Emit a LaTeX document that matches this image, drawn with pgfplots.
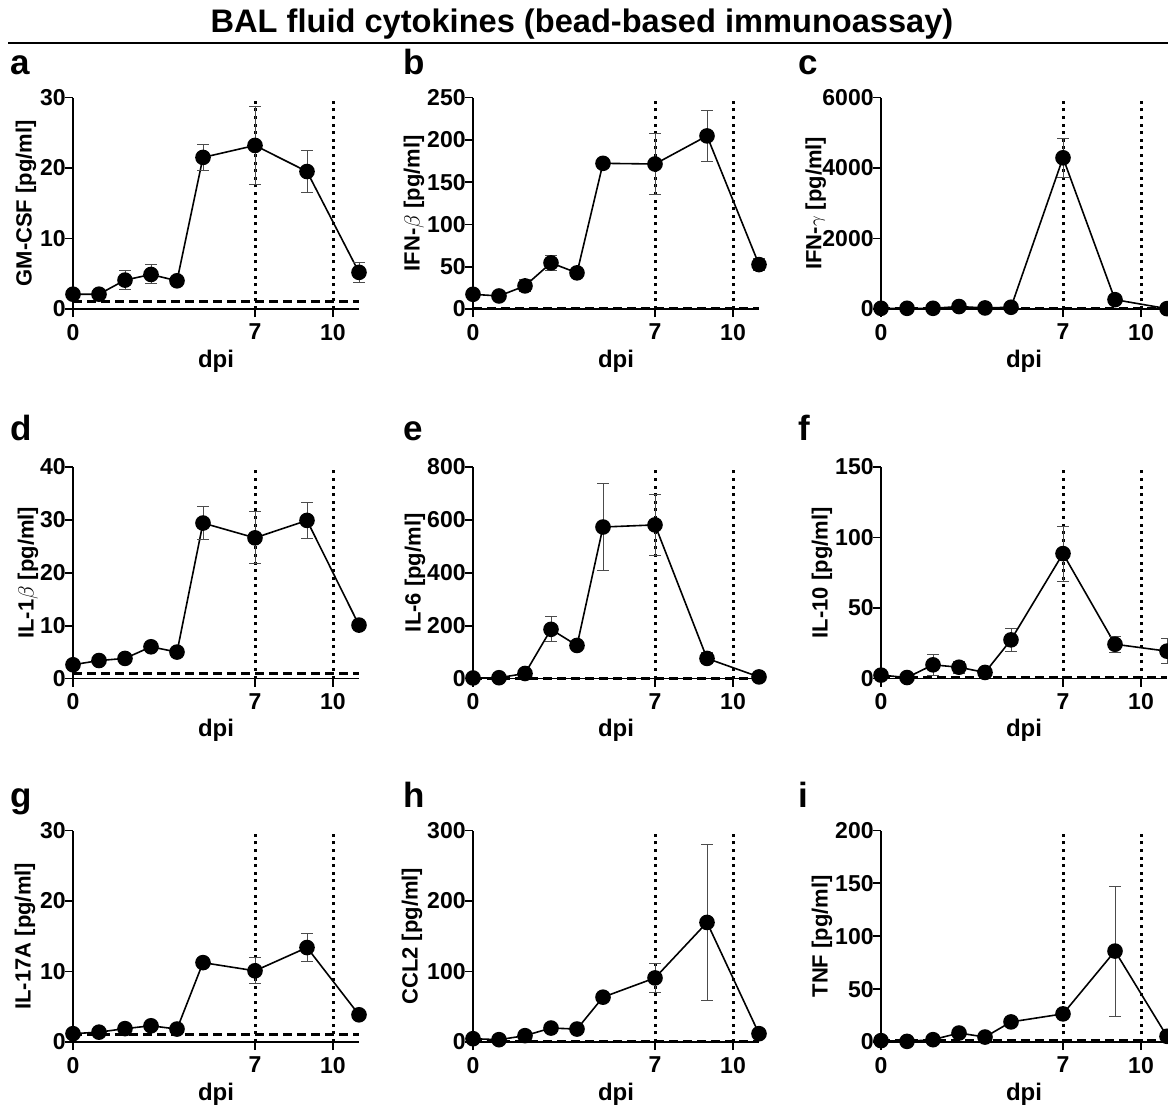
\documentclass[border=0pt]{standalone}
\usepackage{fontspec}
\setmainfont{Liberation Sans}
\usepackage{pgfplots}
\usepackage{pgfplotstable}
\pgfplotsset{compat=1.18}

% values: dpi, mean, error
\pgfplotstableread{
x y e
0 2.1 0.3
1 2.1 0.2
2 4.1 1.4
3 4.9 1.35
4 4.0 0.3
5 21.5 1.8
7 23.2 5.5
9 19.5 3.0
11 5.2 1.4
}\gmcsf
\pgfplotstableread{
x y e
0 17.4 2
1 15.4 2
2 27.3 7
3 54.5 8.5
4 42.7 3
5 172.2 3
7 171.4 36
9 204.6 30.5
11 52.5 7
}\ifnb
\pgfplotstableread{
x y e
0 20 10
1 20 10
2 20 10
3 70 20
4 30 10
5 50 10
7 4290 550
9 265 30
11 10 5
}\ifng
\pgfplotstableread{
x y e
0 2.6 0.3
1 3.4 0.3
2 3.8 0.3
3 6.0 0.4
4 5.0 0.3
5 29.4 3.1
7 26.6 4.9
9 29.9 3.45
11 10.1 0.6
}\ilib
\pgfplotstableread{
x y e
0 2 1
1 3 1
2 19 5
3 186 47
4 125 10
5 573 165
7 581 115
9 76 21
11 6 2
}\ilsix
\pgfplotstableread{
x y e
0 2.4 0.5
1 0.7 0.3
2 9.7 7.3
3 8.0 4.2
4 4.3 1.5
5 27.4 8
7 88.6 19.5
9 24.3 5.8
11 19.4 8.7
}\ilten
\pgfplotstableread{
x y e
0 1.18 0.1
1 1.4 0.1
2 1.9 0.2
3 2.3 0.2
4 1.84 0.2
5 11.26 0.4
7 10.1 1.85
9 13.4 1.95
11 3.86 0.3
}\ilseventeen
\pgfplotstableread{
x y e
0 4.7 1
1 3.3 1
2 9 2
3 19.8 2
4 18.4 2
5 63.6 5
7 90.9 20.7
9 169.6 110.7
11 11.8 2
}\ccltwo
\pgfplotstableread{
x y e
0 1.3 0.5
1 0.6 0.3
2 2.2 0.5
3 8.5 1
4 4.7 1
5 19 2
7 26.6 4
9 86 61.4
11 5.4 1
}\tnf

\pgfplotsset{
  panel/.style={
    anchor=south west,
    width=143pt, height=105.75pt, scale only axis,
    axis lines*=left,
    axis line style={line width=0.9pt, black},
    xmin=0, xmax=11, ymin=0, clip=false,
    xtick={0,7,10},
    tick align=outside, major tick length=4pt,
    tick style={line width=0.9pt, black},
    tick label style={font=\fontsize{11.5}{13}\selectfont\bfseries},
    yticklabel style={inner xsep=0pt, xshift=0.5pt},
    /pgf/number format/assume math mode=true,
    /pgf/number format/1000 sep={},
    scaled y ticks=false,
    xlabel={dpi},
    xlabel style={font=\fontsize{12}{14}\selectfont\bfseries, yshift=2pt},
    ylabel style={font=\fontsize{11}{13}\selectfont\bfseries},
  },
  vdot/.style={black, line width=1.5pt, dash pattern=on 1.5pt off 2.3pt},
  lod/.style={black, line width=1.5pt, dash pattern=on 4.5pt off 2.5pt},
}

% #1 table, #2 ymax, #3 ytick step, #4 ylabel, #5 position, #6 ylabel x (axis description cs)
\newcommand{\cytopanel}[6]{%
  \begin{axis}[panel, at={#5}, ymax=#2, ytick={0,#3,...,#2}, ylabel={#4},
      ylabel style={at={(axis description cs:#6,0.5)}, anchor=center}]
    \addplot[vdot] coordinates {(7,0) (7,#2)};
    \addplot[vdot] coordinates {(10,0) (10,#2)};
    \addplot[lod] coordinates {(0,1) (11,1)};
    \addplot[black, line width=0.8pt, mark=*, mark size=3.5pt,
      error bars/.cd, y dir=both, y explicit,
      error bar style={line width=0.5pt, gray!60!black},
      error mark options={rotate=90, line width=0.5pt, gray!60!black, mark size=2.8pt}]
      table[x=x, y=y, y error=e] {#1};
  \end{axis}}

\begin{document}
\begin{tikzpicture}
\useasboundingbox (0,0) rectangle (584pt,-552pt);
\clip (0,0) rectangle (584pt,-552pt);

\node[anchor=base, font=\fontsize{16.3}{19}\selectfont\bfseries] at (291pt,-16pt)
  {BAL fluid cytokines (bead-based immunoassay)};
\draw[line width=1pt] (4pt,-21.7pt) -- (584pt,-21.7pt);

\tikzset{letter/.style={anchor=base west, inner sep=0pt, font=\fontsize{17.5}{20}\selectfont\bfseries}}
\node[letter] at (5pt,-37pt) {a};
\node[letter] at (201.5pt,-37pt) {b};
\node[letter] at (399pt,-37pt) {c};
\node[letter] at (5pt,-220pt) {d};
\node[letter] at (201.5pt,-220pt) {e};
\node[letter] at (399pt,-220pt) {f};
\node[letter] at (5pt,-403.5pt) {g};
\node[letter] at (201.5pt,-403.5pt) {h};
\node[letter] at (399pt,-403.5pt) {i};

\cytopanel{\gmcsf}{30}{10}{GM-CSF [pg/ml]}{(36.5pt,-154.5pt)}{-0.164}
\cytopanel{\ifnb}{250}{50}{IFN-$\beta$ [pg/ml]}{(236.5pt,-154.5pt)}{-0.206}
\cytopanel{\ifng}{6000}{2000}{IFN-{\small$\gamma$} [pg/ml]}{(440.5pt,-154.5pt)}{-0.228}
\cytopanel{\ilib}{40}{10}{IL-1$\beta$ [pg/ml]}{(36.5pt,-339.25pt)}{-0.157}
\cytopanel{\ilsix}{800}{200}{IL-6 [pg/ml]}{(236.5pt,-339.25pt)}{-0.203}
\cytopanel{\ilten}{150}{50}{IL-10 [pg/ml]}{(440.5pt,-339.25pt)}{-0.206}
\cytopanel{\ilseventeen}{30}{10}{IL-17A [pg/ml]}{(36.5pt,-521pt)}{-0.168}
\cytopanel{\ccltwo}{300}{100}{CCL2 [pg/ml]}{(236.5pt,-521pt)}{-0.213}
\cytopanel{\tnf}{200}{50}{TNF [pg/ml]}{(440.5pt,-521pt)}{-0.206}
\end{tikzpicture}
\end{document}
